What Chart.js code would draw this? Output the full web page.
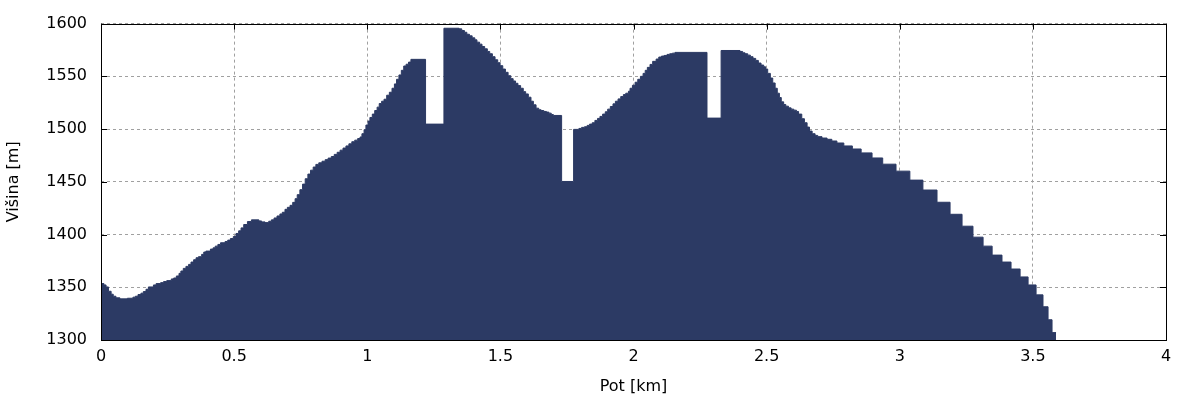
<!DOCTYPE html>
<html>
<head>
<meta charset="utf-8">
<script src="https://cdn.jsdelivr.net/npm/chart.js@4.4.1/dist/chart.umd.min.js"></script>
<style>
    html, body { margin: 0; padding: 0; background: #fff; }
</style>
</head>
<body>
<canvas id="profile" width="1200" height="400"></canvas>
<script>
// PROFILE DATA (distance in km, elevation in m)
let distances = [
    0.000, 0.011, 0.019, 0.028, 0.038, 0.046, 0.056, 0.071, 0.099, 0.120,
    0.129, 0.139, 0.150, 0.159, 0.169, 0.178, 0.197, 0.207, 0.224, 0.235,
    0.247, 0.264, 0.273, 0.283, 0.293, 0.300, 0.309, 0.319, 0.329, 0.338,
    0.348, 0.357, 0.366, 0.378, 0.386, 0.394, 0.411, 0.421, 0.429, 0.439,
    0.449, 0.466, 0.476, 0.486, 0.497, 0.507, 0.517, 0.526, 0.536, 0.550,
    0.565, 0.593, 0.603, 0.616, 0.630, 0.640, 0.650, 0.661, 0.672, 0.681,
    0.691, 0.700, 0.710, 0.720, 0.729, 0.737, 0.747, 0.757, 0.767, 0.777,
    0.787, 0.797, 0.807, 0.818, 0.830, 0.842, 0.853, 0.865, 0.876, 0.887,
    0.898, 0.909, 0.920, 0.931, 0.942, 0.953, 0.964, 0.973, 0.980, 0.988,
    0.995, 1.003, 1.010, 1.019, 1.028, 1.037, 1.045, 1.054, 1.063, 1.073,
    1.083, 1.093, 1.102, 1.110, 1.119, 1.128, 1.137, 1.146, 1.155, 1.164,
    1.219, 1.288, 1.345, 1.355, 1.365, 1.374, 1.384, 1.394, 1.404, 1.412,
    1.422, 1.431, 1.441, 1.451, 1.460, 1.470, 1.480, 1.490, 1.499, 1.509,
    1.519, 1.529, 1.539, 1.548, 1.557, 1.566, 1.576, 1.586, 1.595, 1.605,
    1.615, 1.624, 1.634, 1.644, 1.653, 1.663, 1.673, 1.682, 1.691, 1.699,
    1.730, 1.775, 1.795, 1.805, 1.816, 1.826, 1.835, 1.845, 1.855, 1.865,
    1.874, 1.884, 1.894, 1.903, 1.913, 1.923, 1.932, 1.942, 1.952, 1.962,
    1.971, 1.981, 1.987, 1.996, 2.006, 2.016, 2.026, 2.036, 2.044, 2.052,
    2.062, 2.072, 2.085, 2.095, 2.105, 2.115, 2.126, 2.136, 2.146, 2.156,
    2.276, 2.329, 2.400, 2.410, 2.419, 2.429, 2.439, 2.449, 2.459, 2.469,
    2.479, 2.489, 2.496, 2.504, 2.514, 2.523, 2.532, 2.540, 2.548, 2.555,
    2.564, 2.572, 2.582, 2.592, 2.602, 2.612, 2.620, 2.632, 2.642, 2.652,
    2.661, 2.671, 2.682, 2.692, 2.708, 2.727, 2.745, 2.764, 2.790, 2.822,
    2.855, 2.896, 2.936, 2.986, 3.038, 3.087, 3.140, 3.189, 3.234, 3.275,
    3.313, 3.347, 3.384, 3.418, 3.452, 3.482, 3.512, 3.538, 3.557, 3.572,
    3.587
];
let elevations = [
    1353.5, 1352.2, 1350.3, 1346.2, 1343.4, 1341.5, 1340.0, 1339.0, 1339.6, 1340.6,
    1341.5, 1343.1, 1344.4, 1345.9, 1348.1, 1350.3, 1352.2, 1353.5, 1354.4, 1355.4,
    1356.3, 1357.9, 1358.8, 1360.7, 1363.2, 1365.4, 1367.9, 1369.8, 1371.7, 1373.9,
    1376.1, 1378.0, 1379.0, 1381.2, 1383.4, 1384.3, 1386.2, 1387.4, 1389.0, 1390.6,
    1392.2, 1393.4, 1394.7, 1396.2, 1398.1, 1401.0, 1403.5, 1406.3, 1409.5, 1412.3,
    1413.9, 1412.9, 1412.0, 1411.3, 1412.6, 1413.9, 1415.7, 1417.6, 1419.5, 1421.1,
    1423.9, 1425.8, 1427.7, 1430.5, 1434.0, 1437.8, 1442.5, 1447.8, 1452.9, 1457.3,
    1461.0, 1464.0, 1466.5, 1468.0, 1469.5, 1471.0, 1472.5, 1474.0, 1476.0, 1478.0,
    1480.0, 1482.0, 1484.0, 1486.0, 1488.0, 1489.5, 1491.0, 1492.5, 1495.6, 1499.4,
    1503.8, 1507.6, 1511.0, 1514.2, 1517.6, 1520.8, 1524.2, 1526.4, 1528.3, 1532.1,
    1534.9, 1538.7, 1542.8, 1547.2, 1551.3, 1555.7, 1559.8, 1561.5, 1563.5, 1566.1,
    1504.7, 1595.6, 1595.0, 1593.4, 1591.8, 1589.9, 1588.4, 1586.5, 1584.6, 1582.4,
    1580.5, 1578.3, 1576.1, 1573.6, 1571.4, 1568.6, 1565.7, 1562.9, 1560.1, 1556.9,
    1553.8, 1550.6, 1547.8, 1545.6, 1543.4, 1541.2, 1538.7, 1535.5, 1533.3, 1530.2,
    1526.4, 1523.0, 1519.8, 1518.3, 1517.6, 1516.7, 1516.1, 1515.1, 1513.8, 1512.9,
    1450.3, 1499.7, 1500.6, 1501.6, 1502.2, 1503.5, 1504.7, 1506.0, 1508.2, 1510.1,
    1512.0, 1514.2, 1516.4, 1518.9, 1521.4, 1523.9, 1526.4, 1528.6, 1530.8, 1532.7,
    1534.0, 1535.9, 1538.7, 1541.5, 1544.4, 1547.2, 1550.0, 1552.8, 1555.7, 1558.5,
    1561.3, 1564.2, 1566.4, 1568.3, 1569.2, 1569.8, 1570.8, 1571.4, 1572.0, 1572.7,
    1510.4, 1574.5, 1573.6, 1572.3, 1571.4, 1570.1, 1568.6, 1567.0, 1565.1, 1562.6,
    1560.7, 1559.1, 1556.9, 1552.8, 1548.4, 1543.7, 1538.7, 1534.0, 1529.9, 1525.8,
    1523.3, 1521.7, 1520.1, 1518.9, 1517.9, 1516.7, 1514.2, 1509.8, 1506.0, 1501.9,
    1498.1, 1495.6, 1494.0, 1492.8, 1491.5, 1490.3, 1488.7, 1486.8, 1484.0, 1481.1,
    1477.4, 1472.6, 1466.7, 1460.1, 1451.6, 1442.2, 1430.6, 1419.2, 1407.9, 1397.5,
    1389.0, 1380.5, 1373.9, 1367.3, 1359.8, 1352.2, 1342.8, 1331.5, 1319.2, 1307.0,
    1307.0
];
let xTicks = [0, 0.5, 1, 1.5, 2, 2.5, 3, 3.5, 4];
let yTicks = [1300, 1350, 1400, 1450, 1500, 1550, 1600];

let points = distances.map((d, i) => ({ x: d, y: elevations[i] }));

let tickFont = { family: 'DejaVu Sans', size: 16 };

// inward tick marks + plot frame, like the original plot
let frame = {
    id: 'frame',
    beforeDatasetsDraw(chart) {
        let { ctx, chartArea: a, scales } = chart;
        ctx.save();
        ctx.strokeStyle = '#000';
        ctx.lineWidth = 1;
        ctx.beginPath();
        xTicks.forEach((v) => {
            let px = Math.round(scales.x.getPixelForValue(v)) + 0.5;
            ctx.moveTo(px, a.bottom); ctx.lineTo(px, a.bottom - 6);
            ctx.moveTo(px, a.top); ctx.lineTo(px, a.top + 6);
        });
        yTicks.forEach((v) => {
            let py = Math.round(scales.y.getPixelForValue(v)) + 0.5;
            ctx.moveTo(a.left, py); ctx.lineTo(a.left + 6, py);
            ctx.moveTo(a.right, py); ctx.lineTo(a.right - 6, py);
        });
        ctx.stroke();
        ctx.restore();
    },
    afterDatasetsDraw(chart) {
        let { ctx, chartArea: a } = chart;
        ctx.save();
        ctx.strokeStyle = '#000';
        ctx.lineWidth = 1;
        ctx.strokeRect(Math.round(a.left) + 0.5, Math.round(a.top) + 0.5,
            Math.round(a.right - a.left), Math.round(a.bottom - a.top));
        ctx.restore();
    }
};

let profileChart = new Chart(document.querySelector('#profile').getContext('2d'), {
    type: 'line',
    data: {
        datasets: [{
            data: points,
            stepped: true,
            fill: 'start',
            backgroundColor: '#2c3a64',
            borderColor: '#2c3a64',
            borderWidth: 1,
            pointRadius: 0
        }]
    },
    options: {
        responsive: false,
        animation: false,
        layout: { padding: { left: 0, right: 34, top: 22, bottom: 0 } },
        plugins: { legend: { display: false }, tooltip: { enabled: false } },
        scales: {
            x: {
                type: 'linear',
                min: 0,
                max: 4,
                afterBuildTicks: (s) => { s.ticks = xTicks.map((v) => ({ value: v })); },
                afterFit: (s) => { s.height = 60; },
                ticks: {
                    font: tickFont, color: '#000', padding: 7, maxRotation: 0, autoSkip: false,
                    callback: (v) => String(v)
                },
                grid: { color: '#a0a0a0', drawTicks: false },
                border: { display: false, dash: [3, 3] },
                title: { display: true, text: 'Pot [km]', font: tickFont, color: '#000', padding: { top: 0, bottom: 4 } }
            },
            y: {
                min: 1300,
                max: 1600,
                afterBuildTicks: (s) => { s.ticks = yTicks.map((v) => ({ value: v })); },
                afterFit: (s) => { s.width = 101; },
                ticks: { font: tickFont, color: '#000', padding: 14, callback: (v) => String(v) },
                grid: { color: '#a0a0a0', drawTicks: false },
                border: { display: false, dash: [3, 3] },
                title: { display: true, text: 'Višina [m]', font: tickFont, color: '#000', padding: { top: 4, bottom: 0 } }
            }
        }
    },
    plugins: [frame]
});
</script>
</body>
</html>
